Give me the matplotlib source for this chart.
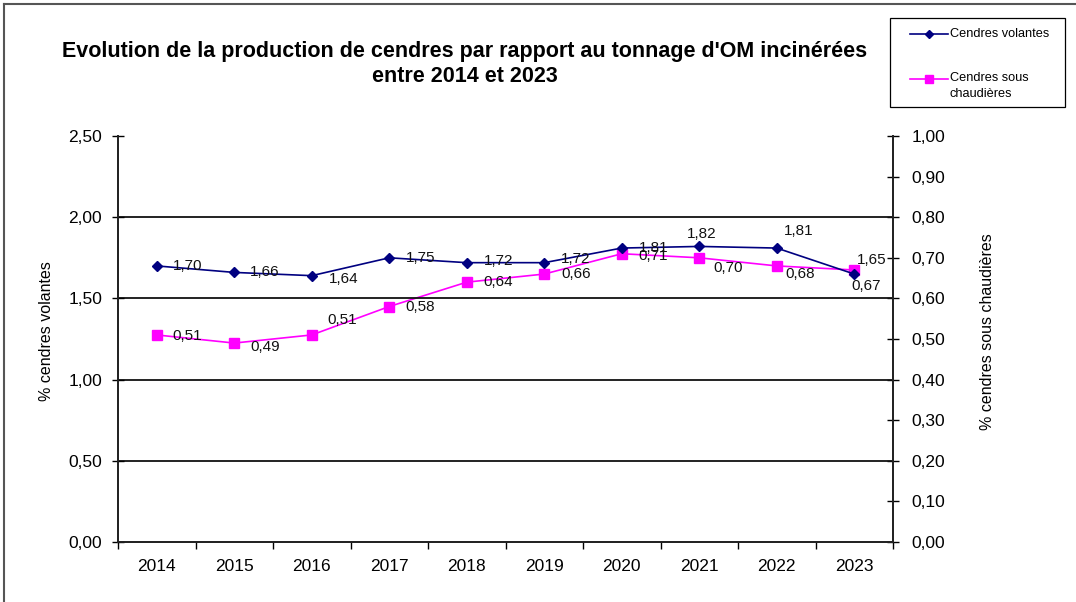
import matplotlib
matplotlib.use("Agg")
import matplotlib.pyplot as plt
from matplotlib.lines import Line2D
from matplotlib.patches import Rectangle
import numpy as np

plt.rcParams['font.family'] = ['Liberation Sans', 'DejaVu Sans']

years = ['2014', '2015', '2016', '2017', '2018', '2019', '2020', '2021', '2022', '2023']
volantes = [1.70, 1.66, 1.64, 1.75, 1.72, 1.72, 1.81, 1.82, 1.81, 1.65]
chaudieres = [0.51, 0.49, 0.51, 0.58, 0.64, 0.66, 0.71, 0.70, 0.68, 0.67]
vol_lbl = ['1,70', '1,66', '1,64', '1,75', '1,72', '1,72', '1,81', '1,82', '1,81', '1,65']
cha_lbl = ['0,51', '0,49', '0,51', '0,58', '0,64', '0,66', '0,71', '0,70', '0,68', '0,67']
series_names = ['Cendres volantes', 'Cendres sous\nchaudières']

W, H = 1076, 602
fig = plt.figure(figsize=(W / 100, H / 100), dpi=100)
ax = fig.add_axes([118 / W, 1 - 542 / H, (893 - 118) / W, (542 - 136) / H])
ax2 = ax.twinx()

x = np.arange(len(years))
blue = '#000080'
pink = '#FF00FF'

# gridlines
for g in [0.5, 1.0, 1.5, 2.0]:
    ax.axhline(g, color='#111111', lw=1.3, zorder=1)

l1, = ax.plot(x, volantes, color=blue, lw=1.2, marker='D', ms=5.5,
              mfc=blue, mec=blue, zorder=5)
l2, = ax2.plot(x, chaudieres, color=pink, lw=1.2, marker='s', ms=7,
               mfc=pink, mec=pink, zorder=5)

ax.set_xlim(-0.5, len(years) - 0.5)
ax.set_ylim(0, 2.5)
ax2.set_ylim(0, 1.0)

ax.set_yticks(np.arange(0, 2.51, 0.5))
ax.set_yticklabels([f'{v:.2f}'.replace('.', ',') for v in np.arange(0, 2.51, 0.5)], fontsize=12.5)
ax2.set_yticks(np.arange(0, 1.001, 0.1))
ax2.set_yticklabels([f'{v:.2f}'.replace('.', ',') for v in np.arange(0, 1.001, 0.1)], fontsize=12.5)

ax.set_xticks(x)
ax.set_xticklabels(years, fontsize=12.5)
ax.set_xticks(np.arange(-0.5, len(years), 1.0), minor=True)
ax.tick_params(axis='x', which='major', length=0, pad=12)
ax.tick_params(axis='x', which='minor', length=5, width=1, direction='out')
ax.tick_params(axis='y', length=9, width=1, direction='inout', pad=7)
ax2.tick_params(axis='y', length=9, width=1, direction='inout', pad=9)

for a in (ax, ax2):
    a.spines['top'].set_visible(False)
    for s in ('left', 'right', 'bottom'):
        a.spines[s].set_color('#222222')
        a.spines[s].set_linewidth(1.3)

fig.text(47 / W, 1 - 331 / H, '% cendres volantes', rotation=90, ha='center', va='center', fontsize=11.5)
fig.text(988 / W, 1 - 332 / H, '% cendres sous chaudières', rotation=90, ha='center', va='center', fontsize=11.5)

ax.set_zorder(ax2.get_zorder() + 1)
ax.patch.set_visible(False)

vol_off = [(16, 0), (16, 0), (17, -3), (17, 0), (17, 2), (17, 4), (17, 0), (2, 12), (7, 17), (3, 14)]
vol_ha = ['left'] * 7 + ['center', 'left', 'left']
for i, (v, t) in enumerate(zip(volantes, vol_lbl)):
    ax.annotate(t, (x[i], v), xytext=vol_off[i], textcoords='offset pixels',
                ha=vol_ha[i], va='center', fontsize=11, color='#111111', zorder=6)

cha_off = [(16, -1), (16, -4), (16, 15), (16, 0), (17, 0), (17, 0), (17, -2), (14, -10), (9, -8), (-3, -16)]
for i, (v, t) in enumerate(zip(chaudieres, cha_lbl)):
    ax2.annotate(t, (x[i], v), xytext=cha_off[i], textcoords='offset pixels',
                 ha='left', va='center', fontsize=11, color='#111111', zorder=6)

fig.text(465 / W, 1 - 52 / H,
         "Evolution de la production de cendres par rapport au tonnage d'OM incinérées",
         ha='center', va='center', fontsize=15.5, fontweight='bold')
fig.text(465 / W, 1 - 76 / H, "entre 2014 et 2023",
         ha='center', va='center', fontsize=15.5, fontweight='bold')

# legend box (drawn in figure pixel coordinates)
def fx(px):
    return px / W

def fy(py):
    return 1 - py / H

fig.add_artist(Rectangle((fx(890), fy(107)), fx(1065) - fx(890), fy(18) - fy(107),
                         transform=fig.transFigure, fill=False, edgecolor='black', lw=0.9))
fig.add_artist(Line2D([fx(910), fx(948)], [fy(34), fy(34)], transform=fig.transFigure,
                      color=blue, lw=1.2))
fig.add_artist(Line2D([fx(929)], [fy(34)], transform=fig.transFigure, color=blue,
                      marker='D', ms=4.5, mfc=blue, mec=blue))
fig.add_artist(Line2D([fx(910), fx(948)], [fy(79), fy(79)], transform=fig.transFigure,
                      color=pink, lw=1.2))
fig.add_artist(Line2D([fx(929)], [fy(79)], transform=fig.transFigure, color=pink,
                      marker='s', ms=6, mfc=pink, mec=pink))
fig.text(fx(950), fy(34), series_names[0], ha='left', va='center', fontsize=9.2)
fig.text(fx(950), fy(72), series_names[1], ha='left', va='top', fontsize=9.2, linespacing=1.45)

# figure border (top and left)
fig.add_artist(Line2D([4 / W, 1], [1 - 4 / H, 1 - 4 / H], transform=fig.transFigure, color='#555555', lw=1.5))
fig.add_artist(Line2D([4 / W, 4 / W], [0, 1 - 4 / H], transform=fig.transFigure, color='#555555', lw=1.5))

fig.savefig('out.png', dpi=100)
